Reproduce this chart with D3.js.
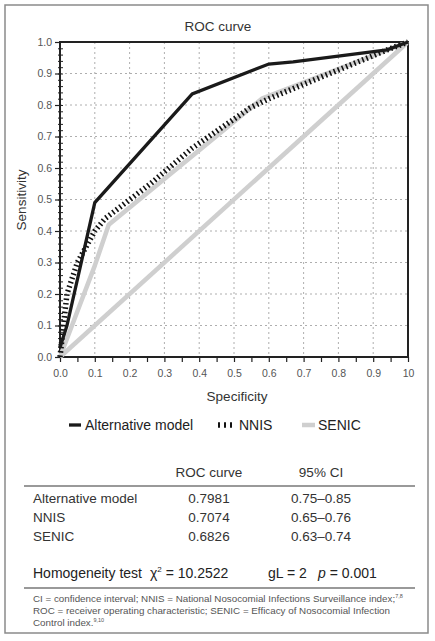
<!DOCTYPE html>
<html><head><meta charset="utf-8">
<script src="https://cdn.jsdelivr.net/npm/d3@7"></script>
<style>
body{margin:0;background:#fff;}
svg text{font-family:"Liberation Sans",Arial,sans-serif;}
</style></head>
<body><svg id="c" width="435" height="641"></svg>
<script>
// ---- data ----
const altX  = [0, 0.02, 0.10, 0.38, 0.60, 0.67, 0.94, 1.00];
const altY  = [0.03, 0.10, 0.49, 0.835, 0.93, 0.937, 0.975, 1.00];
const nnisX = [0, 0.02, 0.05, 0.10, 0.13, 0.26, 0.38, 0.545, 0.60, 0.94, 1.00];
const nnisY = [0, 0.20, 0.30, 0.40, 0.44, 0.55, 0.663, 0.79, 0.82, 0.975, 1.00];
const senicX = [0, 0.10, 0.14, 0.58, 1.00];
const senicY = [0, 0.29, 0.42, 0.82, 1.00];
const refX = [0, 1];
const refY = [0, 1];
const xTickVals = [0,0.1,0.2,0.3,0.4,0.5,0.6,0.7,0.8,0.9,1.0];
const xTickLabels = ["0.0","0.1","0.2","0.3","0.4","0.5","0.6","0.7","0.8","0.9","10"];
const yTickVals = [0,0.1,0.2,0.3,0.4,0.5,0.6,0.7,0.8,0.9,1.0];
const yTickLabels = ["0.0","0.1","0.2","0.3","0.4","0.5","0.6","0.7","0.8","0.9","1.0"];
const seriesNames = ["Alternative model","NNIS","SENIC"];
const rocValues = ["0.7981","0.7074","0.6826"];
const ciValues = ["0.75–0.85","0.65–0.76","0.63–0.74"];

const svg = d3.select("#c");
const L=60, R=408, T=42, B=357;
const x = d3.scaleLinear().domain([0,1]).range([L,R]);
const y = d3.scaleLinear().domain([0,1]).range([B,T]);

// outer border
svg.append("rect").attr("x",5).attr("y",5).attr("width",423).attr("height",628)
  .attr("fill","none").attr("stroke","#8a8a8a").attr("stroke-width",1.5);

// title
svg.append("text").attr("x",218).attr("y",31).attr("text-anchor","middle")
  .attr("font-size",13.5).attr("fill","#333").text("ROC curve");

// grid
const gridVals = d3.range(1,10).map(d=>d/10);
svg.append("g").selectAll("line").data(gridVals).join("line")
  .attr("x1",d=>x(d)).attr("x2",d=>x(d)).attr("y1",T).attr("y2",B)
  .attr("stroke","#999").attr("stroke-width",0.8).attr("stroke-dasharray","2,3");
svg.append("g").selectAll("line").data(gridVals).join("line")
  .attr("y1",d=>y(d)).attr("y2",d=>y(d)).attr("x1",L).attr("x2",R)
  .attr("stroke","#999").attr("stroke-width",0.8).attr("stroke-dasharray","2,3");

// axes
const xAxis = svg.append("g").attr("transform",`translate(0,${B})`)
  .call(d3.axisBottom(x).tickValues(d3.range(0,21).map(d=>d/20)).tickSize(5).tickFormat(""));
xAxis.select(".domain").remove();
xAxis.selectAll("line").attr("stroke","#222").attr("stroke-width",1.2);
const xLab = svg.append("g").attr("transform",`translate(0,${B})`)
  .call(d3.axisBottom(x).tickValues(xTickVals).tickSize(0).tickPadding(13)
    .tickFormat((d,i)=>xTickLabels[i]));
xLab.select(".domain").remove();
xLab.selectAll("text").attr("font-size",10.5).attr("fill","#555").attr("font-family","Liberation Sans, Arial, sans-serif");

const yMinor = svg.append("g").attr("transform",`translate(${L+3},0)`)
  .call(d3.axisLeft(y).tickValues(d3.range(0,51).map(d=>d/50)).tickSize(5).tickFormat(""));
yMinor.select(".domain").remove();
yMinor.selectAll("line").attr("stroke","#222").attr("stroke-width",1);
const yAxis = svg.append("g").attr("transform",`translate(${L},0)`)
  .call(d3.axisLeft(y).tickValues(yTickVals).tickSize(5).tickPadding(3)
    .tickFormat((d,i)=>yTickLabels[i]));
yAxis.select(".domain").remove();
yAxis.selectAll("line").attr("stroke","#222").attr("stroke-width",1.2);
yAxis.selectAll("text").attr("font-size",10.5).attr("fill","#555").attr("font-family","Liberation Sans, Arial, sans-serif");

// frame
svg.append("rect").attr("x",L).attr("y",T).attr("width",R-L).attr("height",B-T)
  .attr("fill","none").attr("stroke","#222").attr("stroke-width",2);

// axis titles
svg.append("text").attr("x",(L+R)/2+3).attr("y",401).attr("text-anchor","middle")
  .attr("font-size",13.5).attr("fill","#333").text("Specificity");
svg.append("text").attr("transform",`translate(26,200) rotate(-90)`).attr("text-anchor","middle")
  .attr("font-size",13.5).attr("fill","#333").text("Sensitivity");

// lines
const line = d3.line().x(d=>x(d[0])).y(d=>y(d[1]));
const zip = (a,b)=>a.map((v,i)=>[v,b[i]]);
svg.append("path").datum(zip(refX,refY)).attr("d",line)
  .attr("fill","none").attr("stroke","#cfcfcf").attr("stroke-width",4.5);
svg.append("path").datum(zip(senicX,senicY)).attr("d",line)
  .attr("fill","none").attr("stroke","#cfcfcf").attr("stroke-width",4.5).attr("stroke-linejoin","round");
svg.append("path").datum(zip(nnisX,nnisY)).attr("d",line)
  .attr("fill","none").attr("stroke","#111").attr("stroke-width",5.5).attr("stroke-dasharray","1.6,2.8");
svg.append("path").datum(zip(altX,altY)).attr("d",line)
  .attr("fill","none").attr("stroke","#1a1a1a").attr("stroke-width",3.3).attr("stroke-linejoin","miter");

// legend
const legY = 425;
const leg = [
  {x1:69,x2:81,tx:85,stroke:"#1a1a1a",w:3.3,dash:null},
  {x1:218,x2:236,tx:239,stroke:"#111",w:5.5,dash:"2,4"},
  {x1:302,x2:315,tx:318,stroke:"#cfcfcf",w:4.5,dash:null}
];
leg.forEach((d,i)=>{
  const ln = svg.append("line").attr("x1",d.x1).attr("x2",d.x2).attr("y1",legY).attr("y2",legY)
    .attr("stroke",d.stroke).attr("stroke-width",d.w);
  if(d.dash) ln.attr("stroke-dasharray",d.dash);
  svg.append("text").attr("x",d.tx).attr("y",legY+5).attr("font-size",14).attr("fill","#222").text(seriesNames[i]);
});

// table
const colRoc = 209, colCi = 321, colLab = 33;
svg.append("text").attr("x",colRoc).attr("y",477).attr("text-anchor","middle").attr("font-size",13.5).attr("fill","#333").text("ROC curve");
svg.append("text").attr("x",colCi).attr("y",477).attr("text-anchor","middle").attr("font-size",13.5).attr("fill","#333").text("95% CI");
svg.append("line").attr("x1",24).attr("x2",415).attr("y1",486).attr("y2",486).attr("stroke","#999").attr("stroke-width",2);
const rowY = [503,522,541];
seriesNames.forEach((n,i)=>{
  svg.append("text").attr("x",colLab).attr("y",rowY[i]).attr("font-size",13.5).attr("fill","#333").text(n);
  svg.append("text").attr("x",colRoc).attr("y",rowY[i]).attr("text-anchor","middle").attr("font-size",13.5).attr("fill","#333").text(rocValues[i]);
  svg.append("text").attr("x",colCi).attr("y",rowY[i]).attr("text-anchor","middle").attr("font-size",13.5).attr("fill","#333").text(ciValues[i]);
});
// homogeneity
const hY = 578;
svg.append("text").attr("x",colLab).attr("y",hY).attr("font-size",14).attr("fill","#222").text("Homogeneity test");
const chi = svg.append("text").attr("x",150).attr("y",hY).attr("font-size",14).attr("fill","#222");
chi.append("tspan").text("χ");
chi.append("tspan").attr("font-size",8).attr("dy",-6).text("2");
chi.append("tspan").attr("dy",6).text(" = 10.2522");
svg.append("text").attr("x",268).attr("y",hY).attr("font-size",14).attr("fill","#222").text("gL = 2");
const pt = svg.append("text").attr("x",318).attr("y",hY).attr("font-size",14).attr("fill","#222");
pt.append("tspan").attr("font-style","italic").text("p");
pt.append("tspan").text(" = 0.001");
svg.append("line").attr("x1",24).attr("x2",415).attr("y1",588).attr("y2",588).attr("stroke","#999").attr("stroke-width",2);
// footnote
const fn = svg.append("g").attr("font-size",9.8).attr("fill","#555");
const f1 = fn.append("text").attr("x",colLab).attr("y",602);
f1.append("tspan").text("CI = confidence interval; NNIS = National Nosocomial Infections Surveillance index;");
f1.append("tspan").attr("font-size",5.5).attr("dy",-4).text("7,8");
fn.append("text").attr("x",colLab).attr("y",614).text("ROC = receiver operating characteristic; SENIC = Efficacy of Nosocomial Infection");
const f3 = fn.append("text").attr("x",colLab).attr("y",626);
f3.append("tspan").text("Control index.");
f3.append("tspan").attr("font-size",5.5).attr("dy",-4).text("9,10");
</script></body></html>
